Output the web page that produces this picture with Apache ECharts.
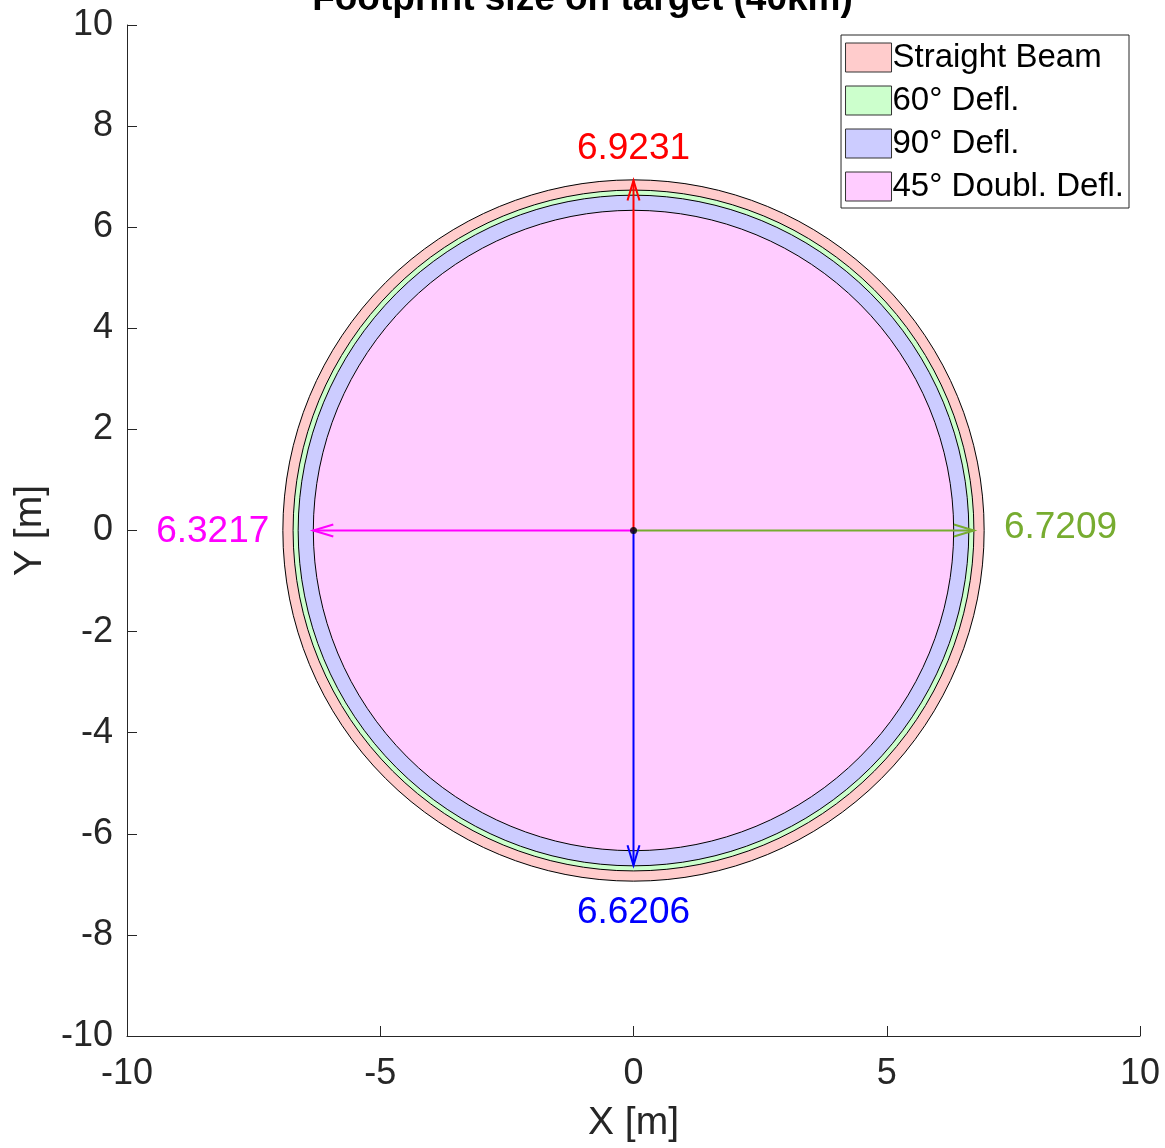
<!DOCTYPE html>
<html><head><meta charset="utf-8">
<script src="https://cdn.jsdelivr.net/npm/echarts@6/dist/echarts.min.js"></script>
<style>html,body{margin:0;padding:0;background:#fff}#c{width:1165px;height:1148px}</style>
</head><body><div id="c"></div>
<script>
// ---- data ----
const ringNames = ['Straight Beam', '60° Defl.', '90° Defl.', '45° Doubl. Defl.'];
const ringRadii = [6.9231, 6.7209, 6.6206, 6.3217];
const ringColors = ['#FFCCCC', '#CCFFCC', '#CCCCFF', '#FFCCFF'];
// arrows from origin to each footprint edge
const arrowEndX = [0, 6.7209, 0, -6.3217];
const arrowEndY = [6.9231, 0, -6.6206, 0];
const arrowLabels = ['6.9231', '6.7209', '6.6206', '6.3217'];
const arrowColors = ['#FF0000', '#77AC30', '#0000FF', '#FF00FF'];
const xTicks = [-10, -5, 0, 5, 10];
const yTicks = [-10, -8, -6, -4, -2, 0, 2, 4, 6, 8, 10];

const FONT = 'Liberation Sans, Arial, Helvetica, sans-serif';
const axisColor = '#262626';

const chart = echarts.init(document.getElementById('c'), null, {renderer: 'canvas'});

const ringSeries = ringNames.map((name, i) => ({
  name: name,
  type: 'custom',
  coordinateSystem: 'cartesian2d',
  itemStyle: {color: ringColors[i], borderColor: '#333', borderWidth: 1},
  data: [[0, 0, ringRadii[i]]],
  z: 2 + i,
  silent: true,
  renderItem: function (params, api) {
    const c = api.coord([api.value(0), api.value(1)]);
    const r = api.size([api.value(2), 0])[0];
    return {
      type: 'circle',
      shape: {cx: c[0], cy: c[1], r: r},
      style: {fill: ringColors[i], stroke: '#000', lineWidth: 1}
    };
  }
}));

const arrowData = arrowEndX.map((x, i) => [0, 0, x, arrowEndY[i], i]);

const arrowSeries = {
  name: 'arrows',
  type: 'custom',
  coordinateSystem: 'cartesian2d',
  data: arrowData,
  z: 20,
  silent: true,
  renderItem: function (params, api) {
    const i = api.value(4);
    const p0 = api.coord([api.value(0), api.value(1)]);
    const p1 = api.coord([api.value(2), api.value(3)]);
    const dx = p1[0] - p0[0], dy = p1[1] - p0[1];
    const len = Math.sqrt(dx * dx + dy * dy);
    const ux = dx / len, uy = dy / len;
    const px = -uy, py = ux;
    const hl = 20, hw = 6;
    const bx = p1[0] - ux * hl, by = p1[1] - uy * hl;
    const col = arrowColors[i];
    const children = [
      {type: 'line', shape: {x1: p0[0], y1: p0[1], x2: p1[0], y2: p1[1]}, style: {stroke: col, lineWidth: 2}},
      {type: 'polyline', shape: {points: [[bx + px * hw, by + py * hw], [p1[0], p1[1]], [bx - px * hw, by - py * hw]]}, style: {stroke: col, lineWidth: 2, fill: null}}
    ];
    let tx, ty, align, vAlign;
    if (i === 0) { tx = p1[0]; ty = p1[1] - 32; align = 'center'; vAlign = 'middle'; }
    else if (i === 1) { tx = p1[0] + 30; ty = p1[1] - 3; align = 'left'; vAlign = 'middle'; }
    else if (i === 2) { tx = p1[0]; ty = p1[1] + 48; align = 'center'; vAlign = 'middle'; }
    else { tx = p1[0] - 44; ty = p1[1] + 1; align = 'right'; vAlign = 'middle'; }
    children.push({type: 'text', style: {x: tx, y: ty, text: arrowLabels[i], fill: col, font: '37px ' + FONT, align: align, verticalAlign: vAlign}});
    return {type: 'group', children: children};
  }
};

const centerSeries = {
  name: 'center',
  type: 'scatter',
  data: [[0, 0]],
  symbolSize: 7,
  itemStyle: {color: '#000'},
  z: 30,
  silent: true
};

chart.setOption({
  animation: false,
  backgroundColor: '#fff',
  title: {
    text: 'Footprint size on target (40km)',
    left: 'center',
    top: -24,
    textStyle: {fontFamily: FONT, fontSize: 37, fontWeight: 'bold', color: '#000'}
  },
  legend: {
    data: ringNames,
    orient: 'vertical',
    right: 36,
    top: 35,
    itemWidth: 46,
    itemHeight: 29,
    itemGap: 10,
    padding: [6, 5, 5, 4],
    borderColor: '#262626',
    borderWidth: 1,
    backgroundColor: '#fff',
    icon: 'rect',
    itemStyle: {borderColor: '#333', borderWidth: 1},
    textStyle: {fontFamily: FONT, fontSize: 33, color: '#000', padding: [0, 0, 0, -4]},
    selectedMode: false
  },
  grid: {left: 127, right: 25, top: 25, bottom: 110, containLabel: false},
  xAxis: {
    type: 'value', min: -10, max: 10, interval: 5,
    name: 'X [m]', nameLocation: 'middle', nameGap: 68,
    nameTextStyle: {fontFamily: FONT, fontSize: 39, color: axisColor},
    axisLine: {show: true, onZero: false, lineStyle: {color: axisColor, width: 1}},
    axisTick: {show: true, inside: true, length: 10, lineStyle: {color: axisColor}},
    axisLabel: {fontFamily: FONT, fontSize: 36, color: axisColor, margin: 20,
      customValues: xTicks, formatter: v => String(v)},
    splitLine: {show: false}
  },
  yAxis: {
    type: 'value', min: -10, max: 10, interval: 2,
    name: 'Y [m]', nameLocation: 'middle', nameGap: 74, nameRotate: 90,
    nameTextStyle: {fontFamily: FONT, fontSize: 39, color: axisColor},
    axisLine: {show: true, onZero: false, lineStyle: {color: axisColor, width: 1}},
    axisTick: {show: true, inside: true, length: 10, lineStyle: {color: axisColor}},
    axisLabel: {fontFamily: FONT, fontSize: 36, color: axisColor, margin: 14,
      formatter: v => String(v)},
    splitLine: {show: false}
  },
  series: ringSeries.concat([arrowSeries, centerSeries])
});
</script>
</body></html>
